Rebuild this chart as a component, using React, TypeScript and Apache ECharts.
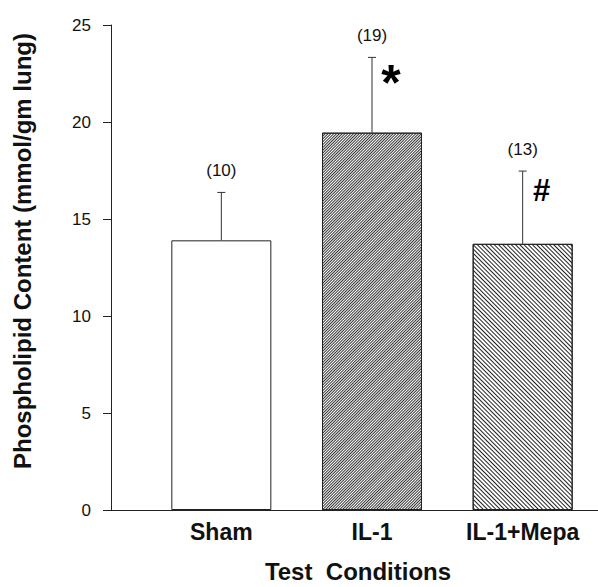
import React, { useEffect, useRef } from "react";
import * as echarts from "echarts";

const categories = ["Sham", "IL-1", "IL-1+Mepa"];
const means = [13.9, 19.45, 13.72];
const sems = [2.47, 3.88, 3.75];
const counts = ["(10)", "(19)", "(13)"];
const markers = ["", "*", "#"];
const yMin = 0;
const yMax = 25;
const yInterval = 5;

const FONT = '"Liberation Sans", Arial, sans-serif';

export default function App() {
  const ref = useRef<HTMLDivElement>(null);
  useEffect(() => {
    if (!ref.current) return;
    const chart = echarts.init(ref.current, undefined, { renderer: "svg" });
    const barStyles = [
      { color: "#ffffff", borderColor: "#222", borderWidth: 1 },
      {
        color: "#ffffff",
        borderColor: "#222",
        borderWidth: 1,
        decal: {
          symbol: "rect",
          symbolSize: 1,
          dashArrayX: [1, 0],
          dashArrayY: [1, 1],
          rotation: -Math.PI / 4,
          color: "#333",
          backgroundColor: "#ffffff",
        },
      },
      {
        color: "#ffffff",
        borderColor: "#222",
        borderWidth: 1,
        decal: {
          symbol: "rect",
          symbolSize: 1,
          dashArrayX: [1, 0],
          dashArrayY: [1, 2],
          rotation: Math.PI / 4,
          color: "#222",
          backgroundColor: "#ffffff",
        },
      },
    ];
    const option: any = {
      animation: false,
      backgroundColor: "#ffffff",
      grid: [
        { left: 111, right: 0, top: 25, bottom: 77 },
        { left: 146, right: 0, top: 25, bottom: 77 },
      ],
      xAxis: [
        {
          gridIndex: 0,
          type: "value",
          min: 0,
          max: 1,
          axisLine: { show: true, onZero: false, lineStyle: { color: "#222", width: 1 } },
          axisTick: { show: false },
          axisLabel: { show: false },
          splitLine: { show: false },
        },
        {
          gridIndex: 1,
          type: "category",
          data: categories,
          axisLine: { show: false },
          axisTick: { show: false },
          axisLabel: {
            fontSize: 23,
            fontWeight: "bold",
            fontFamily: FONT,
            color: "#111",
            margin: 10,
          },
        },
      ],
      yAxis: [
        {
          gridIndex: 0,
          type: "value",
          min: yMin,
          max: yMax,
          interval: yInterval,
          axisLine: { show: true, lineStyle: { color: "#222", width: 1 } },
          axisTick: { show: true, length: 8, lineStyle: { color: "#222", width: 1 } },
          axisLabel: { margin: 20, fontSize: 17, fontFamily: FONT, color: "#111" },
          splitLine: { show: false },
        },
        { gridIndex: 1, type: "value", min: yMin, max: yMax, show: false },
      ],
      series: [
        {
          type: "bar",
          xAxisIndex: 1,
          yAxisIndex: 1,
          barWidth: 100,
          data: means.map((v, i) => ({ value: v, itemStyle: barStyles[i] })),
        },
        {
          type: "custom",
          xAxisIndex: 1,
          yAxisIndex: 1,
          data: means.map((m, i) => [i, m, m + sems[i]]),
          renderItem: (params: any, api: any) => {
            const i = params.dataIndex;
            const top = api.coord([api.value(0), api.value(2)]);
            const base = api.coord([api.value(0), api.value(1)]);
            const isStar = markers[i] === "*";
            return {
              type: "group",
              children: [
                {
                  type: "line",
                  shape: { x1: top[0], y1: base[1], x2: top[0], y2: top[1] },
                  style: { stroke: "#333", lineWidth: 1 },
                },
                {
                  type: "line",
                  shape: { x1: top[0] - 4, y1: top[1], x2: top[0] + 4, y2: top[1] },
                  style: { stroke: "#333", lineWidth: 1 },
                },
                {
                  type: "text",
                  x: top[0],
                  y: top[1] - 22,
                  style: {
                    text: counts[i],
                    font: `17px ${FONT}`,
                    fill: "#111",
                    align: "center",
                    verticalAlign: "middle",
                  },
                },
                {
                  type: "text",
                  x: top[0] + 19,
                  y: top[1] + (isStar ? 26 : 19),
                  style: {
                    text: markers[i],
                    font: `bold ${isStar ? 50 : 31}px ${FONT}`,
                    fill: "#000",
                    align: "center",
                    verticalAlign: "middle",
                  },
                },
              ],
            };
          },
        },
      ],
      graphic: [
        {
          type: "text",
          x: 22,
          y: 251,
          rotation: Math.PI / 2,
          style: {
            text: "Phospholipid Content (mmol/gm lung)",
            font: `bold 24px ${FONT}`,
            fill: "#111",
            align: "center",
            verticalAlign: "middle",
          },
        },
        {
          type: "text",
          x: 358,
          y: 571,
          style: {
            text: "Test  Conditions",
            font: `bold 24px ${FONT}`,
            fill: "#111",
            align: "center",
            verticalAlign: "middle",
          },
        },
      ],
    };
    chart.setOption(option);
    return () => chart.dispose();
  }, []);
  return (
    <div
      ref={ref}
      style={{ position: "fixed", left: 0, top: 0, width: 598, height: 587 }}
    />
  );
}
